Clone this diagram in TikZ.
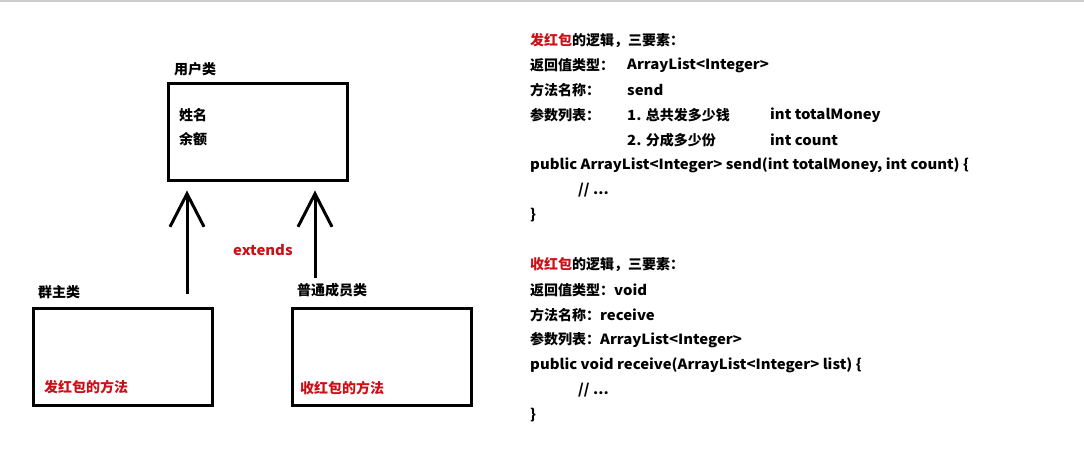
\documentclass[tikz,border=0pt]{standalone}
\usepackage{fontspec}
\setmainfont{Noto Sans CJK SC}
\newfontfamily\latf{Noto Sans CJK SC}[FakeStretch=1.065]
\usetikzlibrary{arrows.meta}
\definecolor{hred}{RGB}{204,16,24}
\definecolor{topline}{RGB}{205,205,205}
\tikzset{
  box/.style={draw=black,line width=3pt,minimum width=179pt,minimum height=97pt,inner sep=0pt},
  lbl/.style={anchor=west,inner sep=0pt,font=\fontsize{14pt}{16pt}\selectfont\bfseries},
  redlbl/.style={lbl,text=hred},
  inh/.style={line width=3pt,-{Straight Barb[length=33pt,width=34pt,line width=3pt]}},
}
\newcommand\lt[1]{{\latf\bfseries #1}}
\begin{document}
\begin{tikzpicture}[x=1pt,y=-1pt]
\useasboundingbox (0,0) rectangle (1084,460);
\draw[topline,line width=1.5pt] (0,1) -- (1084,1);
% boxes
\node[box] (u) at (257.5,131.5) {};
\node[box] (lb) at (122.5,356.5) {};
\node[box] (rb) at (381.5,356.5) {};
\node[lbl] (ut) at (174,69) {用户类};
\node[lbl] (f1) at (179,115) {姓名};
\node[lbl] (f2) at (179,139) {余额};
\node[lbl] (lt) at (38,292) {群主类};
\node[lbl] (rt) at (297,290) {普通成员类};
\node[redlbl] (lm) at (44,387) {发红包的方法};
\node[redlbl] (rm) at (300,388) {收红包的方法};
\node[redlbl] (ext) at (233,250) {\lt{extends}};
% arrows
\coordinate (a1) at (187,0);
\coordinate (a2) at (315,0);
\draw[inh,shorten <=13pt,shorten >=9pt] (lb.north -| a1) -- (u.south -| a1);
\draw[inh,shorten <=29pt,shorten >=9pt] (rb.north -| a2) -- (u.south -| a2);
% block 1
\node[lbl] (s1) at (530,41) {\textcolor{hred}{发红包}的逻辑，三要素：};
\node[lbl] (s2) at (530,65) {返回值类型：};
\node[lbl] (s2b) at (627,65) {\lt{ArrayList<Integer>}};
\node[lbl] (s3) at (530,90) {方法名称：};
\node[lbl] (s3b) at (627,90) {\lt{send}};
\node[lbl] (s4) at (530,115) {参数列表：};
\node[lbl] (s4b) at (627,115) {\lt{1.} 总共发多少钱};
\node[lbl] (s4c) at (770,115) {\lt{int totalMoney}};
\node[lbl] (s5b) at (627,140) {\lt{2.} 分成多少份};
\node[lbl] (s5c) at (770,140) {\lt{int count}};
\node[lbl] (s6) at (530,165) {\lt{public ArrayList<Integer> send(int totalMoney, int count) \{}};
\node[lbl] (s7) at (578,190) {\lt{// ...}};
\node[lbl] (s8) at (530,215) {\lt{\}}};
% block 2
\node[lbl] (r1) at (530,265) {\textcolor{hred}{收红包}的逻辑，三要素：};
\node[lbl] (r2) at (530,290) {返回值类型：\lt{void}};
\node[lbl] (r3) at (530,315) {方法名称：\lt{receive}};
\node[lbl] (r4) at (530,340) {参数列表：\lt{ArrayList<Integer>}};
\node[lbl] (r5) at (530,365) {\lt{public void receive(ArrayList<Integer> list) \{}};
\node[lbl] (r6) at (578,390) {\lt{// ...}};
\node[lbl] (r7) at (530,415) {\lt{\}}};
\end{tikzpicture}
\end{document}
